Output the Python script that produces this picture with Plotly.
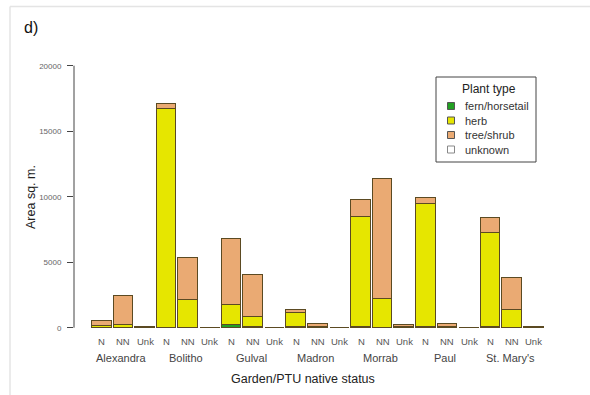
import plotly.graph_objects as go

# Area (sq. m) of each plant type, by garden and PTU native status
gardens = ["Alexandra", "Bolitho", "Gulval", "Madron", "Morrab", "Paul", "St. Mary's"]
statuses = ["N", "NN", "Unk"]

fern_horsetail = [0, 0, 0,   10, 0, 0,   200, 50, 0,   20, 0, 0,   30, 0, 0,   40, 0, 0,   20, 0, 0]
herb = [100, 200, 30,   16680, 2130, 0,   1550, 770, 0,   1100, 60, 0,
        8390, 2190, 30,   9420, 60, 0,   7180, 1370, 40]
tree_shrub = [380, 2240, 40,   420, 3210, 0,   5040, 3170, 0,   230, 220, 0,
              1340, 9150, 200,   420, 220, 0,   1140, 2420, 30]
unknown = [0, 0, 0,   0, 0, 10,   0, 0, 10,   0, 0, 10,   0, 0, 0,   0, 0, 10,   0, 0, 0]

plant_types = ["fern/horsetail", "herb", "tree/shrub", "unknown"]
colors = ["#22a022", "#e6e600", "#eaaa73", "#ffffff"]
series = [fern_horsetail, herb, tree_shrub, unknown]

y_ticks = [0, 5000, 10000, 15000, 20000]

W, H = 590, 395
L, R, T, B = 74, 30, 60, 60
PW, PH = W - L - R, H - T - B


def px(p):
    return (p - L) / PW


def py(p):
    return (H - B - p) / PH


FONT = "Liberation Sans, Arial, sans-serif"
EDGE = "#5b4a22"

bar_x = list(range(len(gardens) * len(statuses)))

fig = go.Figure()
for name, col, vals in zip(plant_types, colors, series):
    fig.add_trace(go.Bar(
        x=bar_x, y=vals, name=name, width=0.907,
        marker=dict(color=col, line=dict(color=EDGE, width=1)),
        showlegend=False,
    ))

annotations = []
for i in bar_x:
    annotations.append(dict(
        x=i, xref="x", y=0, yref="paper", yanchor="middle", yshift=-6,
        text=statuses[i % 3], showarrow=False,
        font=dict(size=9.5, color="#555555", family=FONT),
    ))
for g, name in enumerate(gardens):
    annotations.append(dict(
        x=g * 3 + 1, xref="x", y=0, yref="paper", yanchor="middle", yshift=-23,
        xshift=-2, text=name, showarrow=False,
        font=dict(size=11, color="#444444", family=FONT),
    ))

annotations += [
    dict(x=px(303), y=py(379), xref="paper", yref="paper", text="Garden/PTU native status",
         showarrow=False, xanchor="center", yanchor="middle",
         font=dict(size=12.5, color="#222222", family=FONT)),
    dict(x=px(31), y=py(197), xref="paper", yref="paper", text="Area sq. m.",
         showarrow=False, textangle=-90, xanchor="center", yanchor="middle",
         font=dict(size=12.5, color="#222222", family=FONT)),
    dict(x=px(22), y=py(28), xref="paper", yref="paper", text="d)",
         showarrow=False, xanchor="left", yanchor="middle",
         font=dict(size=16, color="#111111", family=FONT)),
    dict(x=px(488.5), y=py(89), xref="paper", yref="paper", text="Plant type",
         showarrow=False, xanchor="center", yanchor="middle",
         font=dict(size=12, color="#222222", family=FONT)),
]

shapes = [
    # outer frame (top and left edges)
    dict(type="line", xref="paper", yref="paper", x0=px(10), x1=px(W), y0=py(6.5), y1=py(6.5),
         line=dict(color="#e4e4e4", width=1.5)),
    dict(type="line", xref="paper", yref="paper", x0=px(10), x1=px(10), y0=py(6.5), y1=py(H),
         line=dict(color="#e4e4e4", width=1.5)),
    # y axis line spanning the tick range
    dict(type="line", xref="paper", yref="y", x0=0, x1=0, y0=y_ticks[0], y1=y_ticks[-1],
         line=dict(color="#444444", width=1)),
    # legend box
    dict(type="rect", xref="paper", yref="paper", x0=px(436), x1=px(536), y0=py(77), y1=py(162),
         line=dict(color="#444444", width=1), fillcolor="white"),
]

row_y = [106, 120.5, 135, 149.5]
for name, col, yy in zip(plant_types, colors, row_y):
    shapes.append(dict(
        type="rect", xref="paper", yref="paper",
        x0=px(447.5), x1=px(454.5), y0=py(yy - 3.5), y1=py(yy + 3.5),
        fillcolor=col, line=dict(color="#555555" if name != "unknown" else "#888888", width=1),
    ))
    annotations.append(dict(
        x=px(463), y=py(yy), xref="paper", yref="paper", text=name, showarrow=False,
        xanchor="left", yanchor="middle",
        font=dict(size=11, color="#333333", family=FONT),
    ))

fig.update_layout(
    width=W, height=H,
    margin=dict(l=L, r=R, t=T, b=B),
    paper_bgcolor="white", plot_bgcolor="white",
    barmode="stack", bargap=0,
    font=dict(family=FONT),
    xaxis=dict(visible=False, range=[-1.287, 21.213]),
    yaxis=dict(
        range=[-557, 20435], tickvals=y_ticks, ticktext=[str(v) for v in y_ticks],
        ticks="outside", ticklen=6, tickcolor="#444444", tickwidth=1,
        ticklabelstandoff=4,
        showgrid=False, zeroline=False, showline=False,
        tickfont=dict(size=8, color="#666666", family=FONT),
    ),
    shapes=shapes,
    annotations=annotations,
)

fig.write_html("out.html")
